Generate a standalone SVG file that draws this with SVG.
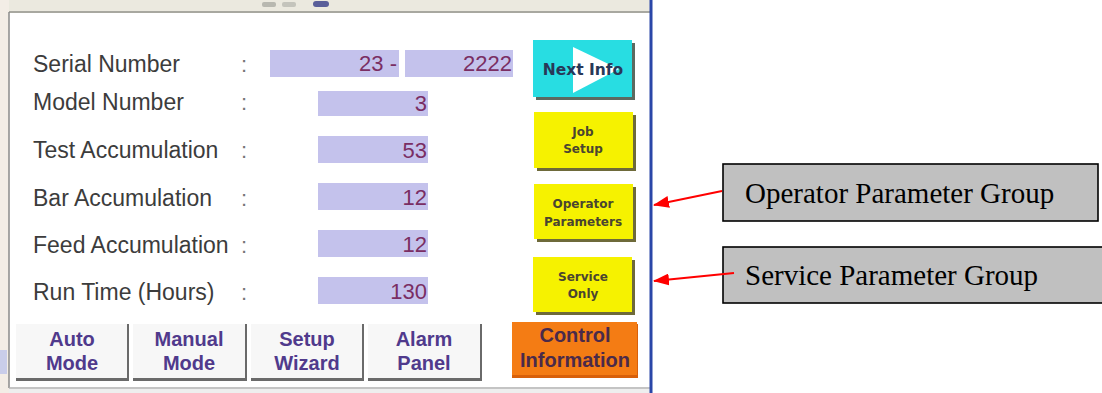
<svg xmlns="http://www.w3.org/2000/svg" width="1102" height="393" viewBox="0 0 1102 393">
<defs>
<marker id="ah" markerWidth="16" markerHeight="12" refX="15" refY="6" orient="auto" markerUnits="userSpaceOnUse">
<path d="M0,0 L16,6 L0,12 Z" fill="#ff0000"/>
</marker>
<style>
.lbl{font-family:"Liberation Sans",Arial,sans-serif;font-size:23px;fill:#3c3c3c}
.col{font-family:"Liberation Sans",Arial,sans-serif;font-size:22px;fill:#777}
.fld{fill:#c4c2ec}
.val{font-family:"Liberation Sans",Arial,sans-serif;font-size:22px;fill:#7a2e63;text-anchor:end}
.ybtn{fill:#f6f200}
.sh{fill:#6e6a3a}
.small{font-family:"DejaVu Sans",Verdana,sans-serif;font-weight:bold;font-size:12px;fill:#4a4530;text-anchor:middle}
.bbtn{fill:#f7f7f7}
.bsh{fill:#6a6a6a}
.btxt{font-family:"Liberation Sans",Arial,sans-serif;font-weight:bold;font-size:20px;fill:#503a8c;text-anchor:middle}
.cbox{fill:#c0c0c0;stroke:#000;stroke-width:1.6}
.ctxt{font-family:"Liberation Serif","Times New Roman",serif;font-size:29px;fill:#000}
.conn{stroke:#ff0000;stroke-width:2;fill:none}
</style>
</defs>
<rect x="0" y="0" width="1102" height="393" fill="#ffffff"/>
<!-- window chrome -->
<rect x="0" y="0" width="650" height="12" fill="#ebe9df"/>
<rect x="0" y="0" width="9" height="393" fill="#f3ede6"/>
<rect x="0" y="350" width="7" height="24" fill="#c9cdea"/>
<rect x="262" y="2" width="14" height="5" rx="2" fill="#b8b8b0"/>
<rect x="282" y="2" width="14" height="5" rx="2" fill="#c4c4bc"/>
<rect x="313" y="1" width="16" height="6" rx="3" fill="#5a5f9a"/>
<rect x="9" y="12" width="641" height="376" fill="#ffffff"/>
<line x1="9" y1="12" x2="650" y2="12" stroke="#a8a8a0" stroke-width="2"/>
<line x1="9" y1="12" x2="9" y2="388" stroke="#8a8a8a" stroke-width="1.5"/>
<line x1="9" y1="388" x2="650" y2="388" stroke="#b0b0b0" stroke-width="1.5"/>
<rect x="9" y="389" width="641" height="4" fill="#eeeeee"/>
<line x1="651" y1="0" x2="651" y2="393" stroke="#2a46a8" stroke-width="3"/>

<g id="serial-number">
<text class="lbl" x="33" y="72">Serial Number</text>
<text class="col" x="241" y="72">:</text>
<rect class="fld" x="270" y="50" width="129" height="27"/>
<text class="val" x="397" y="71">23 -</text>
<rect class="fld" x="405" y="50" width="108" height="27"/>
<text class="val" x="512" y="71">2222</text>
</g>
<g id="model-number">
<text class="lbl" x="33" y="110">Model Number</text>
<text class="col" x="241" y="110">:</text>
<rect class="fld" x="318" y="91" width="110" height="25"/>
<text class="val" x="427" y="111">3</text>
</g>
<g id="test-accumulation">
<text class="lbl" x="33" y="158">Test Accumulation</text>
<text class="col" x="241" y="158">:</text>
<rect class="fld" x="318" y="136" width="110" height="27"/>
<text class="val" x="427" y="158">53</text>
</g>
<g id="bar-accumulation">
<text class="lbl" x="33" y="206">Bar Accumulation</text>
<text class="col" x="241" y="206">:</text>
<rect class="fld" x="318" y="183" width="110" height="27"/>
<text class="val" x="427" y="205">12</text>
</g>
<g id="feed-accumulation">
<text class="lbl" x="33" y="253">Feed Accumulation</text>
<text class="col" x="241" y="253">:</text>
<rect class="fld" x="318" y="230" width="110" height="27"/>
<text class="val" x="427" y="252">12</text>
</g>
<g id="run-time">
<text class="lbl" x="33" y="300">Run Time (Hours)</text>
<text class="col" x="241" y="300">:</text>
<rect class="fld" x="318" y="277" width="110" height="27"/>
<text class="val" x="427" y="299">130</text>
</g>

<g id="next-info">
<rect x="536" y="43" width="99" height="57" fill="#5c6a60"/>
<rect x="533" y="40" width="99" height="57" fill="#28dde2"/>
<path d="M573,47 L619,69 L573,93 Z" fill="#ffffff"/>
<text x="583" y="75" font-family="DejaVu Sans,Verdana,sans-serif" font-weight="bold" font-size="15.5" fill="#283858" text-anchor="middle">Next Info</text>
</g>
<g id="job-setup">
<rect class="sh" x="537" y="115" width="99" height="56"/>
<rect class="ybtn" x="534" y="112" width="99" height="56"/>
<text class="small" x="583" y="136">Job</text>
<text class="small" x="583" y="153">Setup</text>
</g>
<g id="operator-parameters">
<rect class="sh" x="537" y="187" width="99" height="55"/>
<rect class="ybtn" x="534" y="184" width="99" height="55"/>
<text class="small" x="583" y="208">Operator</text>
<text class="small" x="583" y="226">Parameters</text>
</g>
<g id="service-only">
<rect class="sh" x="536" y="260" width="99" height="55"/>
<rect class="ybtn" x="533" y="257" width="99" height="55"/>
<text class="small" x="583" y="281">Service</text>
<text class="small" x="583" y="298">Only</text>
</g>

<g id="auto-mode">
<rect class="bsh" x="16" y="324" width="113" height="57"/>
<rect class="bbtn" x="16" y="324" width="111" height="54"/>
<text class="btxt" x="72" y="346">Auto</text>
<text class="btxt" x="72" y="370">Mode</text>
</g>
<g id="manual-mode">
<rect class="bsh" x="133" y="324" width="114" height="57"/>
<rect class="bbtn" x="133" y="324" width="112" height="54"/>
<text class="btxt" x="189" y="346">Manual</text>
<text class="btxt" x="189" y="370">Mode</text>
</g>
<g id="setup-wizard">
<rect class="bsh" x="251" y="324" width="113" height="57"/>
<rect class="bbtn" x="251" y="324" width="111" height="54"/>
<text class="btxt" x="307" y="346">Setup</text>
<text class="btxt" x="307" y="370">Wizard</text>
</g>
<g id="alarm-panel">
<rect class="bsh" x="368" y="324" width="114" height="57"/>
<rect class="bbtn" x="368" y="324" width="112" height="54"/>
<text class="btxt" x="424" y="346">Alarm</text>
<text class="btxt" x="424" y="370">Panel</text>
</g>
<g id="control-information">
<rect x="512" y="324" width="126" height="54" fill="#d8600a"/>
<rect x="512" y="322" width="125" height="53" fill="#f47c14"/>
<text x="575" y="342" font-family="Liberation Sans,Arial,sans-serif" font-weight="bold" font-size="20" fill="#4a2a4a" text-anchor="middle">Control</text>
<text x="575" y="367" font-family="Liberation Sans,Arial,sans-serif" font-weight="bold" font-size="20" fill="#4a2a4a" text-anchor="middle">Information</text>
</g>

<g id="operator-parameter-group">
<rect class="cbox" x="723" y="164" width="375" height="57"/>
<text class="ctxt" x="745" y="203">Operator Parameter Group</text>
</g>
<g id="service-parameter-group">
<rect class="cbox" x="723" y="247" width="380" height="56"/>
<text class="ctxt" x="745" y="285">Service Parameter Group</text>
</g>

<g id="connectors">
<line class="conn" x1="722" y1="191" x2="654" y2="205" marker-end="url(#ah)"/>
<line class="conn" x1="734" y1="273" x2="654" y2="281" marker-end="url(#ah)"/>
</g>
</svg>
